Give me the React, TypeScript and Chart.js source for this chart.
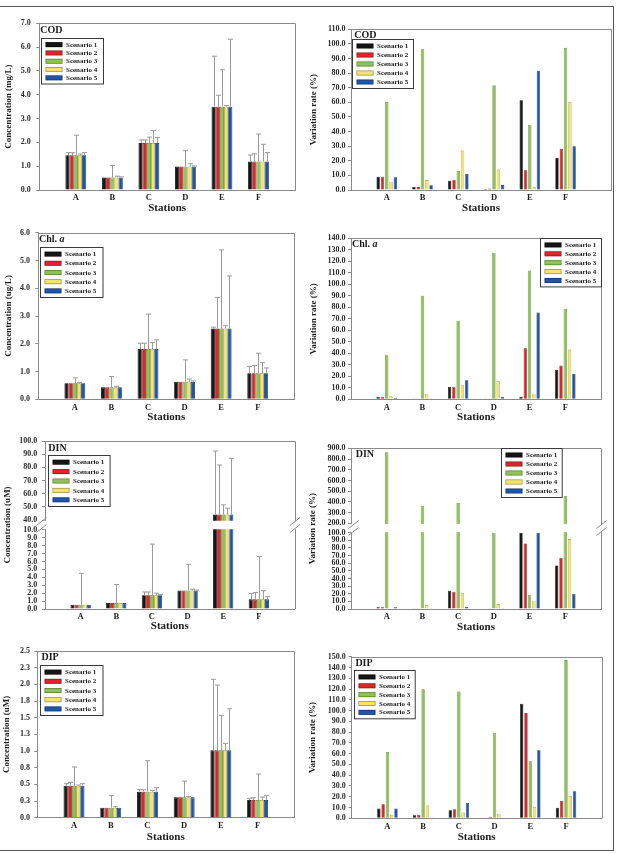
import React, { useEffect, useRef } from 'react';
import { Chart, registerables, LinearScale } from 'chart.js';

// ---------- shared labels ----------
const stations = ['A', 'B', 'C', 'D', 'E', 'F'];
const scenarioLabels = ['Scenario 1', 'Scenario 2', 'Scenario 3', 'Scenario 4', 'Scenario 5'];
const scenarioFill = ['#161616', '#d8282c', '#8ec257', '#f4e46e', '#1f55a6'];
const scenarioEdge = ['#000000', '#7d1616', '#557d2c', '#9b8a35', '#10306a'];

// ---------- COD ----------
const codMean = [1.46, 0.53, 1.98, 0.99, 3.5, 1.2];
const codSd1 = [0.11, 0, 0.12, 0, 2.12, 0.27];
const codSd2 = [0.11, 0, 0.12, 0, 0.48, 0.32];
const codSd3 = [0.84, 0.5, 0.24, 0.66, 1.55, 1.15];
const codSd4 = [0.05, 0.05, 0.52, 0.11, 0.05, 0.72];
const codSd5 = [0.11, 0.02, 0.22, 0.02, 2.83, 0.37];
const codRate1 = [9.1, 2.3, 6.4, 0.7, 61.4, 22.1];
const codRate2 = [9.1, 2.0, 7.0, 1.1, 13.5, 28.1];
const codRate3 = [60.3, 96.3, 13.0, 71.7, 44.5, 97.3];
const codRate4 = [5.7, 6.8, 27.0, 14.0, 1.8, 60.0];
const codRate5 = [8.7, 3.2, 11.2, 3.4, 81.7, 29.9];

// ---------- Chl. a ----------
const chlMean = [0.58, 0.43, 1.81, 0.63, 2.55, 0.94];
const chlSd1 = [0, 0, 0.21, 0, 0.05, 0.24];
const chlSd2 = [0, 0, 0.21, 0, 1.12, 0.28];
const chlSd3 = [0.19, 0.39, 1.26, 0.79, 2.83, 0.72];
const chlSd4 = [0.02, 0.04, 0.23, 0.1, 0.1, 0.38];
const chlSd5 = [0, 0, 0.33, 0.03, 1.89, 0.19];
const chlRate1 = [2.3, 0.3, 10.7, 0.3, 2.3, 25.5];
const chlRate2 = [2.3, 0.3, 10.7, 0.6, 44.3, 29.3];
const chlRate3 = [38.8, 90.1, 68.4, 127.5, 111.9, 78.6];
const chlRate4 = [2.9, 4.6, 12.2, 15.6, 4.9, 43.2];
const chlRate5 = [1.4, 0.1, 16.5, 2.3, 75.4, 22.3];

// ---------- DIN ----------
const dinMean = [0.55, 0.78, 1.75, 2.35, 44.3, 1.22];
const dinSd1 = [0, 0, 0.4, 0, 48.1, 0.76];
const dinSd2 = [0, 0, 0.4, 0, 37.5, 0.85];
const dinSd3 = [3.95, 2.32, 6.45, 3.3, 7.3, 5.4];
const dinSd4 = [0, 0, 0.25, 0.15, 4.8, 1.1];
const dinSd5 = [0, 0, 0.1, 0.05, 42.6, 0.34];
const dinRate1 = [2.2, 0.4, 24.0, 0.5, 100, 57.2];
const dinRate2 = [2.2, 0.4, 22.7, 0.9, 86.0, 67.2];
const dinRate3 = [863, 365, 390, 100, 17.9, 455];
const dinRate4 = [0.4, 4.8, 20.5, 6.5, 10.9, 91.7];
const dinRate5 = [2.2, 0.2, 2.6, 0.9, 100, 19.7];
const dinConcLowTicks = [0, 1, 2, 3, 4, 5, 6, 7, 8, 9, 10];
const dinConcHighTicks = [40, 50, 60, 70, 80, 90, 100];
const dinRateLowTicks = [0, 10, 20, 30, 40, 50, 60, 70, 80, 90, 100];
const dinRateHighTicks = [200, 300, 400, 500, 600, 700, 800, 900];

// ---------- DIP ----------
const dipMean = [0.48, 0.15, 0.39, 0.305, 1.01, 0.265];
const dipSd1 = [0.03, 0, 0.03, 0, 1.065, 0.025];
const dipSd2 = [0.05, 0, 0.03, 0, 0.98, 0.035];
const dipSd3 = [0.28, 0.18, 0.465, 0.245, 0.525, 0.39];
const dipSd4 = [0.01, 0.015, 0.02, 0.015, 0.105, 0.045];
const dipSd5 = [0.03, 0, 0.06, 0, 0.625, 0.07];
const dipRate1 = [9.0, 2.8, 7.4, 0.3, 106.4, 9.9];
const dipRate2 = [13.0, 3.4, 8.4, 1.5, 97.7, 16.1];
const dipRate3 = [61.6, 119.7, 117.8, 79.5, 52.9, 146.9];
const dipRate4 = [3.1, 12.1, 5.3, 4.0, 10.5, 20.7];
const dipRate5 = [9.0, 0.3, 14.2, 0.0, 63.1, 25.0];

// ---------- styling ----------
const FAMILY = '"Liberation Serif", "Times New Roman", Times, serif';
const AXIS = '#8a8a8a';
const INK = '#1c1c1c';
const WHISKER = '#9b9b9b';
const LEFT_COL = { x: 0, w: 305 };
const RIGHT_COL = { x: 305, w: 312 };
const TOP_ROOM = 16;
const BOTTOM_ROOM = 28;

// Linear axis with a break: a low segment and a high segment separated by a gap.
class BrokenLinearScale extends LinearScale {
  static id = 'brokenLinear';
  static defaults = LinearScale.defaults;

  buildTicks() {
    const b: any = (this.options as any).broken;
    const ticks: { value: number }[] = [];
    b.lowTicks.forEach((v: number) => ticks.push({ value: v }));
    b.highTicks.forEach((v: number) => ticks.push({ value: v }));
    (this as any).start = this.min;
    (this as any).end = this.max;
    return ticks as any;
  }

  segments() {
    const b: any = (this.options as any).broken;
    const span = this.bottom - this.top - b.gap;
    const lowH = span * b.lowFrac;
    const highH = span - lowH;
    const lowMax = b.lowTicks[b.lowTicks.length - 1];
    const highMin = b.highTicks[0];
    const highMax = b.highTicks[b.highTicks.length - 1];
    return { lowH, highH, lowMax, highMin, highMax, gap: b.gap };
  }

  getPixelForValue(value: number) {
    if (value === null || value === undefined || isNaN(value)) return NaN;
    const s = this.segments();
    if (value <= s.lowMax) return this.bottom - (value / s.lowMax) * s.lowH;
    if (value >= s.highMin) {
      return this.top + s.highH - ((value - s.highMin) / (s.highMax - s.highMin)) * s.highH;
    }
    return this.bottom - s.lowH - ((value - s.lowMax) / (s.highMin - s.lowMax)) * s.gap;
  }

  getValueForPixel(pixel: number) {
    const s = this.segments();
    const lowTop = this.bottom - s.lowH;
    const highBottom = this.top + s.highH;
    if (pixel >= lowTop) return ((this.bottom - pixel) / s.lowH) * s.lowMax;
    if (pixel <= highBottom) return s.highMin + ((highBottom - pixel) / s.highH) * (s.highMax - s.highMin);
    return s.lowMax + ((lowTop - pixel) / s.gap) * (s.highMin - s.lowMax);
  }
}

Chart.register(...registerables, BrokenLinearScale);

// Frame, whiskers, axis break, panel tag and legend.
const panelDecor = {
  id: 'panelDecor',
  beforeDatasetsDraw(chart: any) {
    const { ctx, chartArea: a } = chart;
    ctx.save();
    ctx.strokeStyle = AXIS;
    ctx.lineWidth = 1;
    ctx.beginPath();
    ctx.moveTo(a.left, Math.round(a.top) + 0.5);
    ctx.lineTo(Math.round(a.right) + 0.5, Math.round(a.top) + 0.5);
    ctx.lineTo(Math.round(a.right) + 0.5, a.bottom);
    ctx.stroke();
    ctx.restore();
  },
  afterDatasetsDraw(chart: any, _args: any, o: any) {
    const { ctx, chartArea: a } = chart;
    const yScale = chart.scales.y;
    ctx.save();

    // upper whiskers (mean + SD)
    ctx.strokeStyle = WHISKER;
    ctx.lineWidth = 1;
    chart.data.datasets.forEach((ds: any, i: number) => {
      if (!ds.errorUp) return;
      const meta = chart.getDatasetMeta(i);
      meta.data.forEach((bar: any, j: number) => {
        const sd = ds.errorUp[j];
        if (!sd) return;
        const yTop = yScale.getPixelForValue(ds.data[j].y + sd);
        const x = Math.round(bar.x) + 0.5;
        ctx.beginPath();
        ctx.moveTo(x, bar.y);
        ctx.lineTo(x, yTop);
        ctx.moveTo(x - 2.5, yTop);
        ctx.lineTo(x + 2.5, yTop);
        ctx.stroke();
      });
    });

    // axis break
    const b = yScale.options.broken;
    if (b) {
      const lowMax = b.lowTicks[b.lowTicks.length - 1];
      const highMin = b.highTicks[0];
      const yLow = yScale.getPixelForValue(lowMax);
      const yHigh = yScale.getPixelForValue(highMin);
      ctx.fillStyle = '#ffffff';
      ctx.fillRect(a.left - 1.5, yHigh + 0.6, a.right - a.left + 3.5, yLow - yHigh - 1.2);
      const mid = (yLow + yHigh) / 2;
      ctx.strokeStyle = AXIS;
      ctx.lineWidth = 1;
      [a.left + o.breakLeftDx, a.right + 0.5].forEach((cx: number) => {
        [mid - 3.5, mid + 3.5].forEach((cy: number) => {
          ctx.beginPath();
          ctx.moveTo(cx - 5, cy + 4);
          ctx.lineTo(cx + 5, cy - 4);
          ctx.stroke();
        });
      });
    }

    // panel tag
    ctx.fillStyle = INK;
    ctx.textAlign = 'left';
    ctx.textBaseline = 'middle';
    ctx.font = `bold 10px ${FAMILY}`;
    const tx = a.left + o.tagDx;
    const ty = a.top + o.tagDy;
    ctx.fillText(o.tag, tx, ty);
    if (o.tagItalic) {
      const w = ctx.measureText(o.tag).width;
      ctx.font = `italic bold 10px ${FAMILY}`;
      ctx.fillText(o.tagItalic, tx + w, ty);
    }

    // legend
    const lx = Math.round(a.left + o.legDx) + 0.5;
    const ly = Math.round(a.top + o.legDy) + 0.5;
    const lw = o.legW;
    const lh = o.legH;
    ctx.fillStyle = '#ffffff';
    ctx.fillRect(lx, ly, lw, lh);
    ctx.strokeStyle = '#3a3a3a';
    ctx.lineWidth = 1;
    ctx.strokeRect(lx, ly, lw, lh);
    const gap = (lh - 4) / chart.data.datasets.length;
    ctx.font = `bold 7px ${FAMILY}`;
    chart.data.datasets.forEach((ds: any, i: number) => {
      const cy = ly + 2 + gap * (i + 0.5);
      ctx.fillStyle = ds.borderColor;
      ctx.fillRect(lx + 4, cy - 2.5, 17, 5);
      ctx.fillStyle = ds.backgroundColor;
      ctx.fillRect(lx + 4.7, cy - 1.8, 15.6, 3.6);
      ctx.fillStyle = INK;
      ctx.fillText(ds.label, lx + 24.5, cy + 0.3);
    });
    ctx.restore();
  },
};

type Area = { l: number; t: number; r: number; b: number };
type PanelSpec = {
  col: { x: number; w: number };
  area: Area;
  kind: 'conc' | 'rate';
  series: number[][];
  errors?: number[][];
  yMax: number;
  yStep?: number;
  broken?: { lowTicks: number[]; highTicks: number[]; lowFrac: number; gap: number };
  xMax: number;
  yTitle: string;
  yTitleX: number;
  stationsGap: number;
  tag: string;
  tagItalic?: string;
  tagDx: number;
  tagDy: number;
  leg: { dx: number; dy: number; w: number; h: number };
  tickGap: number;
  breakLeftDx?: number;
};

function canvasBox(p: PanelSpec) {
  const y = Math.floor(p.area.t - TOP_ROOM);
  const h = Math.ceil(p.area.b + BOTTOM_ROOM) - y;
  return { x: p.col.x, y, w: p.col.w, h };
}

function makeConfig(p: PanelSpec): any {
  const box = canvasBox(p);
  const conc = p.kind === 'conc';
  const font = (size: number, weight = 'bold') => ({ family: FAMILY, size, weight, lineHeight: 1 });
  const datasets = scenarioLabels.map((label, i) => ({
    label,
    data: p.series[i].map((y, j) => ({ x: j + 1, y })),
    backgroundColor: scenarioFill[i],
    borderColor: scenarioEdge[i],
    borderWidth: conc ? 0.8 : 0.6,
    categoryPercentage: conc ? 0.57 : 0.6,
    barPercentage: conc ? 1 : 0.78,
    errorUp: p.errors ? p.errors[i] : null,
  }));
  const xAxisH = box.y + box.h - p.area.b;
  const yAxisW = p.area.l - box.x;
  return {
    type: 'bar',
    data: { datasets },
    plugins: [panelDecor],
    options: {
      animation: false,
      responsive: false,
      maintainAspectRatio: false,
      devicePixelRatio: 1,
      layout: {
        autoPadding: false,
        padding: { top: p.area.t - box.y, right: box.x + box.w - p.area.r, left: 0, bottom: 0 },
      },
      plugins: {
        legend: { display: false },
        title: { display: false },
        tooltip: { enabled: false },
        panelDecor: {
          tag: p.tag,
          tagItalic: p.tagItalic || '',
          tagDx: p.tagDx,
          tagDy: p.tagDy,
          legDx: p.leg.dx,
          legDy: p.leg.dy,
          legW: p.leg.w,
          legH: p.leg.h,
          breakLeftDx: p.breakLeftDx ?? 0,
        },
      },
      scales: {
        x: {
          type: 'linear',
          min: 0,
          max: p.xMax,
          offset: false,
          grid: { display: false, drawTicks: false },
          border: { display: true, color: AXIS, width: 1 },
          ticks: {
            stepSize: 1,
            autoSkip: false,
            maxRotation: 0,
            padding: 3.75,
            color: INK,
            font: font(8.5),
            callback: (v: number) => (Number.isInteger(v) && v >= 1 && v <= stations.length ? stations[v - 1] : ''),
          },
          title: {
            display: true,
            text: 'Stations',
            color: INK,
            font: font(11),
            padding: { top: 0, bottom: xAxisH - p.stationsGap - 5.5 },
          },
          afterFit: (s: any) => {
            s.height = xAxisH;
          },
        },
        y: {
          type: p.broken ? 'brokenLinear' : 'linear',
          min: 0,
          max: p.broken ? p.broken.highTicks[p.broken.highTicks.length - 1] : p.yMax,
          broken: p.broken,
          grid: {
            display: true,
            drawOnChartArea: false,
            drawTicks: true,
            tickLength: 3,
            color: AXIS,
            lineWidth: 1,
          },
          border: { display: true, color: AXIS, width: 1 },
          ticks: {
            stepSize: p.yStep,
            autoSkip: false,
            padding: p.tickGap,
            color: '#2c2c2c',
            font: font(8),
            callback: (v: number) => Number(v).toFixed(1),
          },
          title: {
            display: true,
            text: p.yTitle,
            color: INK,
            font: font(9),
            padding: { top: p.yTitleX - box.x - 4.5, bottom: 0 },
          },
          afterFit: (s: any) => {
            s.width = yAxisW;
          },
        },
      },
    },
  };
}

const panels: PanelSpec[] = [
  {
    col: LEFT_COL, area: { l: 39.3, t: 23.3, r: 295, b: 190 }, kind: 'conc',
    series: [codMean, codMean, codMean, codMean, codMean],
    errors: [codSd1, codSd2, codSd3, codSd4, codSd5],
    yMax: 7, yStep: 1, xMax: 7, yTitle: 'Concentration (mg/L)', yTitleX: 9, stationsGap: 18,
    tag: 'COD', tagDx: 1, tagDy: 7, leg: { dx: 1.5, dy: 14.5, w: 62, h: 45.5 }, tickGap: 5.5,
  },
  {
    col: RIGHT_COL, area: { l: 351, t: 29.3, r: 611, b: 190 }, kind: 'rate',
    series: [codRate1, codRate2, codRate3, codRate4, codRate5],
    yMax: 110, yStep: 10, xMax: 7.27, yTitle: 'Variation rate (%)', yTitleX: 314, stationsGap: 18,
    tag: 'COD', tagDx: 3.3, tagDy: 5.7, leg: { dx: 1, dy: 9.7, w: 61, h: 49 }, tickGap: 2.5,
  },
  {
    col: LEFT_COL, area: { l: 38.3, t: 232.7, r: 294.3, b: 399.3 }, kind: 'conc',
    series: [chlMean, chlMean, chlMean, chlMean, chlMean],
    errors: [chlSd1, chlSd2, chlSd3, chlSd4, chlSd5],
    yMax: 6, yStep: 1, xMax: 7, yTitle: 'Concentration (ug/L)', yTitleX: 8.3, stationsGap: 17.5,
    tag: 'Chl. ', tagItalic: 'a', tagDx: 0.7, tagDy: 7, leg: { dx: 1.7, dy: 14.6, w: 62.5, h: 50 }, tickGap: 5.2,
  },
  {
    col: RIGHT_COL, area: { l: 351, t: 238.3, r: 601, b: 399.3 }, kind: 'rate',
    series: [chlRate1, chlRate2, chlRate3, chlRate4, chlRate5],
    yMax: 140, yStep: 10, xMax: 7, yTitle: 'Variation rate (%)', yTitleX: 314, stationsGap: 17.5,
    tag: 'Chl. ', tagItalic: 'a', tagDx: 1, tagDy: 6, leg: { dx: 189, dy: 0, w: 61, h: 48.4 }, tickGap: 2.5,
  },
  {
    col: LEFT_COL, area: { l: 45, t: 441, r: 294.5, b: 609 }, kind: 'conc',
    series: [dinMean, dinMean, dinMean, dinMean, dinMean],
    errors: [dinSd1, dinSd2, dinSd3, dinSd4, dinSd5],
    yMax: 100,
    broken: { lowTicks: dinConcLowTicks, highTicks: dinConcHighTicks, lowFrac: 0.5, gap: 9.7 },
    xMax: 7, yTitle: 'Concentration (uM)', yTitleX: 7.3, stationsGap: 17,
    tag: 'DIN', tagDx: 3.3, tagDy: 7.7, leg: { dx: 2.7, dy: 14, w: 61.6, h: 51 }, tickGap: 4.7,
    breakLeftDx: -3.5,
  },
  {
    col: RIGHT_COL, area: { l: 351, t: 448.3, r: 601, b: 609 }, kind: 'rate',
    series: [dinRate1, dinRate2, dinRate3, dinRate4, dinRate5],
    yMax: 900,
    broken: { lowTicks: dinRateLowTicks, highTicks: dinRateHighTicks, lowFrac: 0.504, gap: 9.4 },
    xMax: 7, yTitle: 'Variation rate (%)', yTitleX: 313, stationsGap: 17.7,
    tag: 'DIN', tagDx: 4.7, tagDy: 6, leg: { dx: 150, dy: -0.6, w: 60.7, h: 49 }, tickGap: 2.5,
    breakLeftDx: 2.5,
  },
  {
    col: LEFT_COL, area: { l: 37.3, t: 651, r: 294.3, b: 817.7 }, kind: 'conc',
    series: [dipMean, dipMean, dipMean, dipMean, dipMean],
    errors: [dipSd1, dipSd2, dipSd3, dipSd4, dipSd5],
    yMax: 2.5, yStep: 0.25, xMax: 7, yTitle: 'Concentration (uM)', yTitleX: 6.7, stationsGap: 19,
    tag: 'DIP', tagDx: 4.2, tagDy: 6.5, leg: { dx: 2.7, dy: 14, w: 62.5, h: 50 }, tickGap: 4.3,
  },
  {
    col: RIGHT_COL, area: { l: 351.7, t: 656.7, r: 601.7, b: 818.3 }, kind: 'rate',
    series: [dipRate1, dipRate2, dipRate3, dipRate4, dipRate5],
    yMax: 150, yStep: 10, xMax: 7, yTitle: 'Variation rate (%)', yTitleX: 313, stationsGap: 18.4,
    tag: 'DIP', tagDx: 3.7, tagDy: 6.7, leg: { dx: 2.6, dy: 13.3, w: 60.7, h: 48.3 }, tickGap: 3,
  },
];

function Panel({ spec }: { spec: PanelSpec }) {
  const ref = useRef<HTMLCanvasElement>(null);
  const box = canvasBox(spec);
  useEffect(() => {
    if (!ref.current) return;
    const chart = new Chart(ref.current, makeConfig(spec));
    return () => chart.destroy();
  }, [spec]);
  return (
    <canvas
      ref={ref}
      width={box.w}
      height={box.h}
      style={{ position: 'absolute', left: box.x, top: box.y, width: box.w, height: box.h }}
    />
  );
}

export default function App() {
  return (
    <div style={{ position: 'absolute', left: 0, top: 0, width: 617, height: 854, background: '#ffffff', overflow: 'hidden' }}>
      <div
        style={{
          position: 'absolute',
          left: -3,
          top: 6,
          width: 617,
          height: 845,
          boxSizing: 'border-box',
          borderTop: '1.5px solid #555555',
          borderRight: '1.5px solid #555555',
          borderBottom: '1.5px solid #555555',
        }}
      />
      {panels.map((p, i) => (
        <Panel key={i} spec={p} />
      ))}
    </div>
  );
}
